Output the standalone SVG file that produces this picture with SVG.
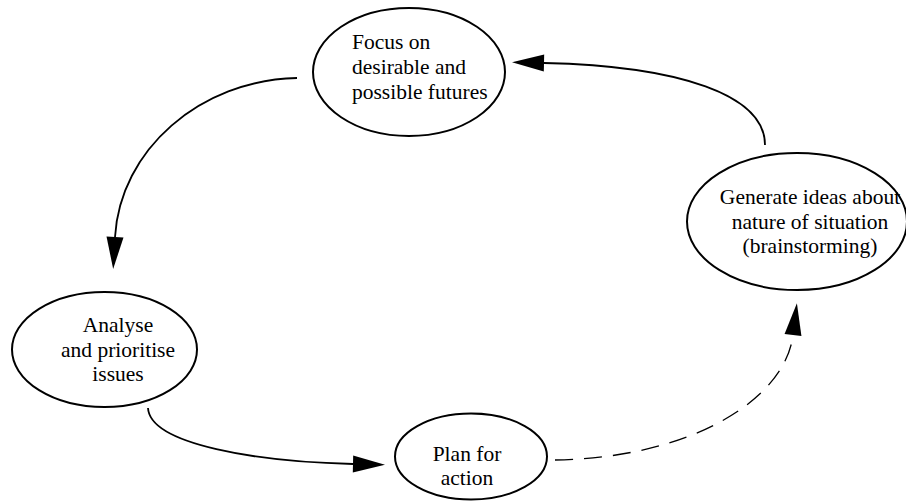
<svg xmlns="http://www.w3.org/2000/svg" width="906" height="501" viewBox="0 0 906 501">
<style>
.node ellipse{fill:#fff;stroke:#000;stroke-width:2}
.c{text-anchor:middle}
.conn path{fill:none;stroke:#000;stroke-width:1.8}
.conn .dash{stroke-dasharray:18 11;stroke-width:1.3}
</style>
<defs>
<marker id="ah" markerUnits="userSpaceOnUse" markerWidth="34" markerHeight="18" refX="0" refY="8.5" orient="auto" overflow="visible">
<path d="M0,0 L32,8.5 L0,17 Z" fill="#000" stroke="none"/>
</marker>
</defs>
<rect width="906" height="501" fill="#fff"/>
<g id="connectors" class="conn">
<path d="M297,78 C200,80 120,150 115,237" marker-end="url(#ah)"/>
<path d="M148,408 C150,445 260,462 353,464" marker-end="url(#ah)"/>
<path class="dash" d="M555,460 C690,458 785,400 793,335" marker-end="url(#ah)"/>
<path d="M765,145 C765,95 680,66 544,63" marker-end="url(#ah)"/>
</g>
<g font-family="'Liberation Serif', 'DejaVu Serif', 'Times New Roman', serif" font-size="21.5" fill="#000">
<g id="focus" class="node">
<ellipse cx="409" cy="72" rx="96" ry="64"/>
<text x="352" y="49">Focus on</text>
<text x="352" y="74">desirable and</text>
<text x="352" y="99">possible futures</text>
</g>
<g id="generate" class="node">
<ellipse cx="797" cy="221.5" rx="110" ry="68.5"/>
<text class="c" x="810" y="204">Generate ideas about</text>
<text class="c" x="810" y="229">nature of situation</text>
<text class="c" x="810" y="253">(brainstorming)</text>
</g>
<g id="analyse" class="node">
<ellipse cx="104.5" cy="349.5" rx="92.5" ry="57.5"/>
<text class="c" x="118" y="332">Analyse</text>
<text class="c" x="118" y="357">and prioritise</text>
<text class="c" x="118" y="381">issues</text>
</g>
<g id="plan" class="node">
<ellipse cx="471" cy="456.5" rx="76" ry="43"/>
<text class="c" x="467" y="461">Plan for</text>
<text class="c" x="467" y="485">action</text>
</g>
</g>
</svg>
